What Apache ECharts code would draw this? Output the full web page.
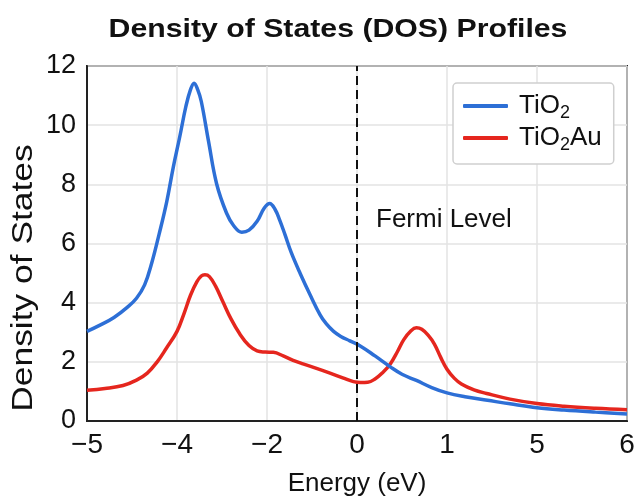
<!DOCTYPE html>
<html><head><meta charset="utf-8">
<script src="https://cdn.jsdelivr.net/npm/echarts@6/dist/echarts.min.js"></script>
<style>html,body{margin:0;padding:0;background:#fff}#c{width:639px;height:502px}</style>
</head><body><div id="c"></div>
<script>
// Energy tick labels (equally spaced on the axis; axis position = tick index)
const tickLabels = ['\u22125', '\u22124', '\u22122', '0', '1', '5', '6'];
const fermiPos = 3; // axis position of E = 0 eV

// TiO2 (axis position, DOS)
const tio2X = [0, 0.15, 0.3, 0.45, 0.55, 0.64, 0.72, 0.8, 0.885, 0.96, 1.03, 1.1, 1.15, 1.19, 1.23, 1.27, 1.35, 1.44, 1.55, 1.63, 1.72, 1.8, 1.89, 1.97, 2.03, 2.09, 2.14, 2.2, 2.27, 2.37, 2.48, 2.59, 2.66, 2.74, 2.82, 2.92, 3.04, 3.2, 3.37, 3.5, 3.66, 3.83, 4.0, 4.2, 4.45, 4.7, 5.0, 5.3, 5.65, 6.0];
const tio2Y = [3.03, 3.25, 3.5, 3.85, 4.15, 4.6, 5.35, 6.3, 7.4, 8.6, 9.6, 10.65, 11.2, 11.42, 11.2, 10.8, 9.46, 8.02, 7.03, 6.6, 6.38, 6.45, 6.75, 7.2, 7.35, 7.15, 6.8, 6.3, 5.69, 4.98, 4.26, 3.59, 3.28, 3.03, 2.86, 2.71, 2.53, 2.2, 1.83, 1.58, 1.37, 1.13, 0.95, 0.82, 0.7, 0.58, 0.45, 0.37, 0.3, 0.24];

// TiO2Au (axis position, DOS)
const tio2AuX = [0, 0.2, 0.4, 0.55, 0.67, 0.78, 0.88, 1.0, 1.08, 1.15, 1.22, 1.27, 1.31, 1.36, 1.43, 1.51, 1.6, 1.7, 1.8, 1.89, 1.98, 2.07, 2.18, 2.29, 2.4, 2.55, 2.7, 2.85, 2.96, 3.04, 3.12, 3.2, 3.28, 3.37, 3.45, 3.52, 3.6, 3.66, 3.72, 3.79, 3.86, 3.93, 4.0, 4.08, 4.16, 4.3, 4.44, 4.7, 5.0, 5.3, 5.65, 6.0];
const tio2AuY = [1.04, 1.1, 1.2, 1.38, 1.62, 2.0, 2.45, 3.03, 3.65, 4.25, 4.7, 4.9, 4.94, 4.88, 4.55, 4.03, 3.45, 2.93, 2.55, 2.37, 2.33, 2.32, 2.2, 2.05, 1.93, 1.78, 1.62, 1.45, 1.33, 1.3, 1.31, 1.42, 1.62, 1.93, 2.35, 2.75, 3.05, 3.15, 3.1, 2.9, 2.6, 2.15, 1.75, 1.45, 1.25, 1.05, 0.93, 0.74, 0.59, 0.5, 0.43, 0.38];

const FONT = 'Liberation Sans, Arial, Helvetica, sans-serif';
const pairs = (xs, ys) => xs.map((x, i) => [x, ys[i]]);

const chart = echarts.init(document.getElementById('c'), null, {renderer: 'canvas'});
const sub = {fontSize: 18, fontFamily: FONT, color: '#111', verticalAlign: 'bottom', lineHeight: 18};
chart.setOption({
  backgroundColor: '#fff',
  animation: false,
  grid: {left: 87, right: 12, top: 66, bottom: 73, show: true, borderColor: '#222', borderWidth: 2, backgroundColor: 'transparent'},
  xAxis: {
    type: 'value', min: 0, max: 6, interval: 1,
    axisLine: {show: true, onZero: false, lineStyle: {color: '#222', width: 2}},
    axisTick: {show: false},
    splitLine: {show: true, lineStyle: {color: '#e3e3e3', width: 1.5}},
    axisLabel: {fontSize: 28, fontFamily: FONT, color: '#111', margin: 10, formatter: v => tickLabels[Math.round(v)]},
    name: 'Energy (eV)', nameLocation: 'middle', nameGap: 50,
    nameTextStyle: {fontSize: 26, fontFamily: FONT, color: '#111'}
  },
  yAxis: {
    type: 'value', min: 0, max: 12, interval: 2,
    axisLine: {show: true, lineStyle: {color: '#222', width: 2}},
    axisTick: {show: false},
    splitLine: {show: true, lineStyle: {color: '#e3e3e3', width: 1.5}},
    axisLabel: {fontSize: 27, fontFamily: FONT, color: '#111', margin: 11}
  },
  legend: {
    orient: 'vertical', left: 453, top: 83, width: 162,
    padding: [10, 12, 10, 10], itemGap: 3, itemWidth: 45, itemHeight: 4, icon: 'roundRect',
    backgroundColor: '#fff', borderColor: '#cfcfcf', borderWidth: 1.5, borderRadius: 4,
    textStyle: {fontSize: 26, fontFamily: FONT, color: '#111', padding: [0, 0, 0, 6], rich: {
      m: {fontSize: 26, fontFamily: FONT, color: '#111', lineHeight: 32},
      s: sub
    }},
    formatter: n => n === 'TiO2' ? '{m|TiO}{s|2}' : '{m|TiO}{s|2}{m|Au}',
    data: ['TiO2', 'TiO2Au']
  },
  series: [
    {name: 'TiO2', type: 'line', data: pairs(tio2X, tio2Y), smooth: 0.4, showSymbol: false, symbol: 'none',
     lineStyle: {color: '#2d6fd6', width: 3.5}, itemStyle: {color: '#2d6fd6'}, z: 3,
     markLine: {silent: true, symbol: 'none', label: {show: false}, lineStyle: {color: '#111', width: 2, type: [9, 5]}, data: [{xAxis: fermiPos}]}},
    {name: 'TiO2Au', type: 'line', data: pairs(tio2AuX, tio2AuY), smooth: 0.4, showSymbol: false, symbol: 'none',
     lineStyle: {color: '#e5261e', width: 3.5}, itemStyle: {color: '#e5261e'}, z: 2}
  ]
});

const fp = chart.convertToPixel({gridIndex: 0}, [fermiPos, 6.8]);
chart.setOption({
  graphic: [
    {type: 'text', x: 338, y: 30, scaleX: 1.21, style: {text: 'Density of States (DOS) Profiles', font: 'bold 25px ' + FONT, fill: '#111', align: 'center', verticalAlign: 'middle'}},
    {type: 'text', x: 24, y: 278, rotation: Math.PI / 2, scaleX: 1.22, style: {text: 'Density of States', font: '29px ' + FONT, fill: '#111', align: 'center', verticalAlign: 'middle'}},
    {type: 'text', x: fp[0] + 19, y: fp[1], style: {text: 'Fermi Level', font: '26px ' + FONT, fill: '#111', align: 'left', verticalAlign: 'middle'}}
  ]
});
</script>
</body></html>
